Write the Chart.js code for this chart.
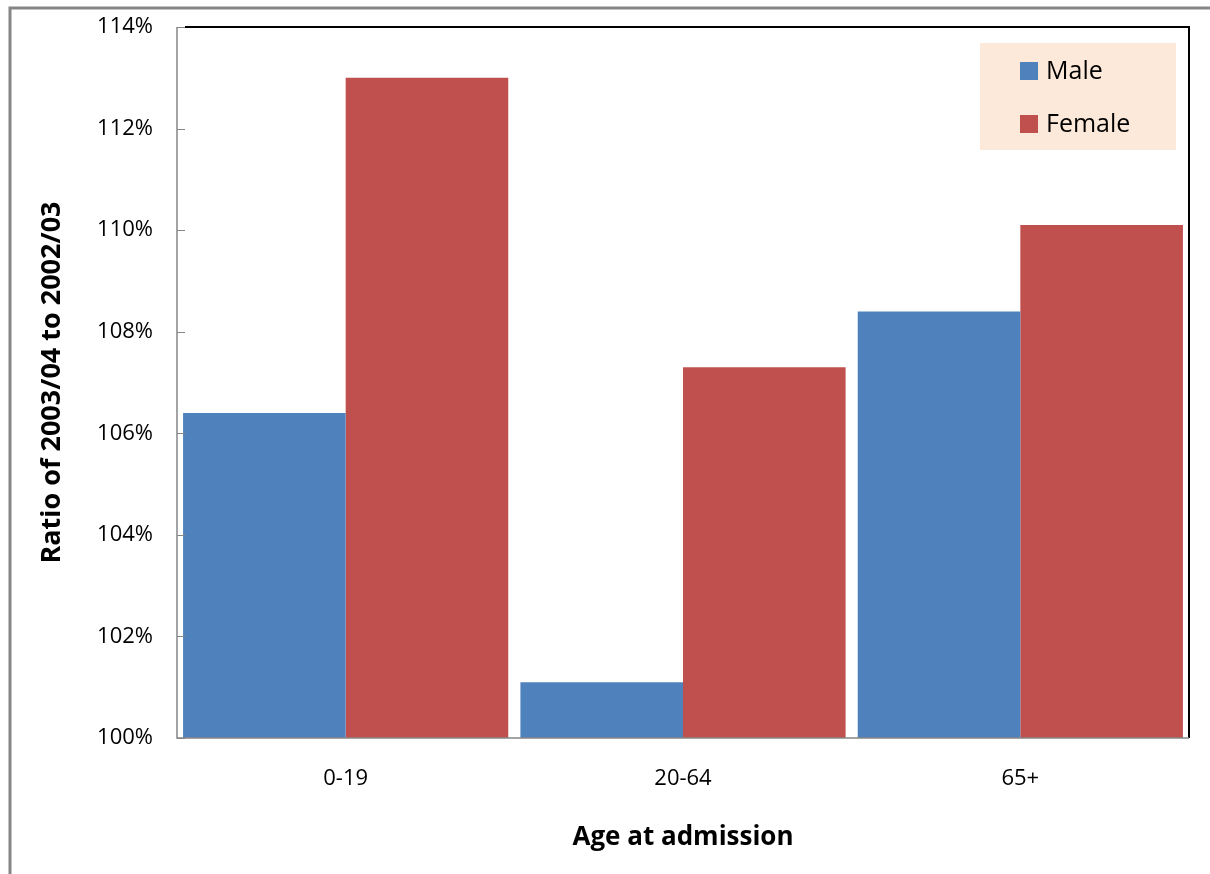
<!DOCTYPE html>
<html>
<head>
<meta charset="utf-8">
<script src="https://cdn.jsdelivr.net/npm/chart.js@4.4.0/dist/chart.umd.min.js"></script>
<style>
  html, body { margin: 0; padding: 0; background: #fff; }
  #wrap { width: 1210px; height: 874px; position: relative; }
</style>
</head>
<body>
<div id="wrap"><canvas id="ratioChart" width="1210" height="874"></canvas></div>
<script>
// data
const ageGroups = ["0-19", "20-64", "65+"];
const maleRatio = [106.4, 101.1, 108.4];
const femaleRatio = [113.0, 107.3, 110.1];
const yMin = 100, yMax = 114, yStep = 2;

const fontFam = "'Open Sans', Lato, sans-serif";

// frame, plot border, inward ticks and the legend box
const decorPlugin = {
    id: 'decor',
    beforeDraw(chart) {
        const ctx = chart.ctx;
        ctx.save();
        ctx.fillStyle = '#fff';
        ctx.fillRect(0, 0, chart.width, chart.height);
        // outer frame (only top and left visible)
        ctx.strokeStyle = '#868686';
        ctx.lineWidth = 3;
        ctx.beginPath();
        ctx.moveTo(10, chart.height);
        ctx.lineTo(10, 8);
        ctx.lineTo(chart.width, 8);
        ctx.stroke();
        ctx.restore();
    },
    afterDraw(chart) {
        const ctx = chart.ctx;
        const a = chart.chartArea;
        const y = chart.scales.y;
        ctx.save();
        // black top and right border of the plot
        ctx.strokeStyle = '#000';
        ctx.lineWidth = 2;
        ctx.beginPath();
        ctx.moveTo(a.left + 8, a.top);
        ctx.lineTo(a.right, a.top);
        ctx.lineTo(a.right, a.bottom);
        ctx.stroke();
        // gray axes
        ctx.strokeStyle = '#868686';
        ctx.lineWidth = 1.5;
        ctx.beginPath();
        ctx.moveTo(a.left, a.top);
        ctx.lineTo(a.left, a.bottom);
        ctx.lineTo(a.right, a.bottom);
        ctx.stroke();
        // small inward tick marks
        ctx.lineWidth = 1;
        for (let v = yMin; v <= yMax; v += yStep) {
            const py = Math.round(y.getPixelForValue(v)) + 0.5;
            ctx.beginPath();
            ctx.moveTo(a.left, py);
            ctx.lineTo(a.left + 8, py);
            ctx.stroke();
        }
        // legend
        const lx = 980, ly = 43;
        ctx.fillStyle = '#fde9d9';
        ctx.fillRect(lx, ly, 196, 107);
        ctx.font = "25px " + fontFam;
        ctx.textBaseline = 'middle';
        chart.data.datasets.forEach((ds, i) => {
            const cy = ly + 28 + i * 53;
            ctx.fillStyle = ds.backgroundColor;
            ctx.fillRect(lx + 40, cy - 9, 18, 18);
            ctx.fillStyle = '#000';
            ctx.fillText(ds.label, lx + 66, cy + 1);
        });
        ctx.restore();
    }
};

new Chart(document.getElementById('ratioChart'), {
    type: 'bar',
    data: {
        labels: ageGroups,
        datasets: [
            { label: 'Male', data: maleRatio, backgroundColor: '#4f81bd', borderWidth: 0 },
            { label: 'Female', data: femaleRatio, backgroundColor: '#c0504d', borderWidth: 0 }
        ]
    },
    options: {
        responsive: false,
        animation: false,
        layout: { padding: { left: 0, top: 27, right: 21, bottom: 0 } },
        plugins: {
            legend: { display: false },
            tooltip: { enabled: false }
        },
        datasets: {
            bar: { categoryPercentage: 0.964, barPercentage: 1.0 }
        },
        scales: {
            x: {
                grid: { display: false, drawTicks: false },
                border: { display: false },
                ticks: { color: '#000', padding: 28, font: { family: fontFam, size: 22 } },
                title: {
                    display: true, text: 'Age at admission', color: '#000',
                    font: { family: fontFam, size: 26, weight: 'bold' },
                    padding: { top: 0, bottom: 21 }
                },
                afterFit(s) { s.height = 874 - 738; }
            },
            y: {
                min: yMin, max: yMax,
                grid: { display: false, drawTicks: false },
                border: { display: false },
                ticks: {
                    stepSize: yStep, color: '#000', padding: 24,
                    font: { family: fontFam, size: 22 },
                    callback: v => v + '%'
                },
                title: {
                    display: true, text: 'Ratio of 2003/04 to 2002/03', color: '#000',
                    font: { family: fontFam, size: 27, weight: 'bold' },
                    padding: { top: 36, bottom: 0 }
                },
                afterFit(s) {
                    s.width = 177;
                    s.paddingTop = 0;
                    s.paddingBottom = 0;
                }
            }
        }
    },
    plugins: [decorPlugin]
});
</script>
</body>
</html>
